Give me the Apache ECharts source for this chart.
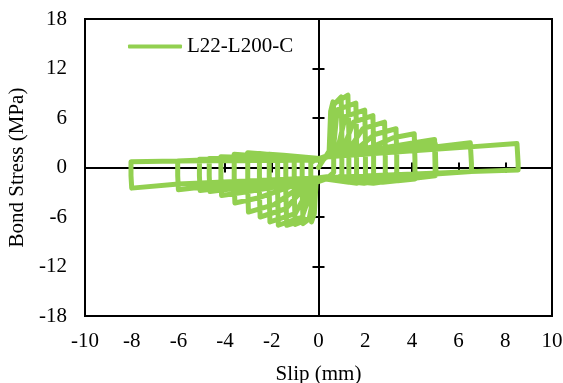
<!DOCTYPE html>
<html>
<head>
<meta charset="utf-8">
<style>
html,body{margin:0;padding:0;background:#fff;}
#chart{width:563px;height:383px;}
</style>
<script src="https://cdn.jsdelivr.net/npm/echarts@6/dist/echarts.min.js"></script>
</head>
<body>
<div id="chart"></div>
<script>
// Tick labels / axis ranges
const xTicks = [-10, -8, -6, -4, -2, 0, 2, 4, 6, 8, 10];
const yTicks = [-18, -12, -6, 0, 6, 12, 18];
const seriesName = 'L22-L200-C';

// Hysteresis cycles: [slip (mm), bond stress (MPa)]
const cycle01 = [[0,0],[0.2,0.9],[0.45,1.6],[0.52,6.8],[0.62,7.95],[0.65,3.5],[0.65,-0.6],[0.45,-1.1],[0.1,-1.2],[-0.1,-1.6],[-0.18,-5.6],[-0.3,-6.6],[-0.33,-3.0],[-0.33,0.6],[-0.15,0.9],[0.05,1.0]];
const cycle02 = [[0.3,1.3],[0.5,2.2],[0.58,7.4],[0.97,8.55],[1.0,4.0],[1.0,-0.9],[0.75,-1.4],[0.2,-1.3],[-0.1,-1.7],[-0.25,-5.9],[-0.66,-6.8],[-0.7,-3.0],[-0.7,0.8],[-0.4,1.1],[0.05,1.1]];
const cycle03 = [[0.35,1.4],[0.55,2.5],[0.65,7.7],[1.26,8.76],[1.3,4.0],[1.3,-1.2],[1.0,-1.6],[0.3,-1.4],[-0.1,-1.8],[-0.3,-6.1],[-1.0,-6.9],[-1.04,-3.0],[-1.04,1.0],[-0.6,1.2],[0.05,1.1]];
const cycle04 = [[0.4,1.4],[0.65,2.5],[0.8,7.0],[1.6,7.8],[1.63,3.5],[1.63,-1.4],[1.3,-1.8],[0.3,-1.4],[-0.1,-1.8],[-0.4,-6.2],[-1.36,-7.0],[-1.4,-3.0],[-1.4,1.2],[-0.9,1.3],[0.05,1.1]];
const cycle05 = [[0.4,1.4],[0.85,2.6],[1.15,6.2],[1.98,6.95],[2.01,3.0],[2.01,-1.6],[1.65,-1.9],[0.3,-1.4],[-0.2,-1.9],[-0.7,-6.0],[-1.72,-7.0],[-1.75,-3.0],[-1.75,1.4],[-1.2,1.4],[0.05,1.1]];
const cycle06 = [[0.4,1.4],[1.1,2.6],[1.5,5.5],[2.33,6.3],[2.36,2.5],[2.36,-1.7],[1.95,-1.9],[0.3,-1.4],[-0.3,-2.0],[-1.0,-5.6],[-2.08,-6.6],[-2.11,-3.0],[-2.11,1.6],[-1.5,1.5],[0.05,1.1]];
const cycle07 = [[0.4,1.4],[1.4,2.6],[1.9,4.7],[2.83,5.5],[2.86,2.0],[2.86,-1.7],[2.35,-1.9],[0.3,-1.4],[-0.5,-2.1],[-1.4,-5.0],[-2.5,-6.0],[-2.53,-3.0],[-2.53,1.7],[-1.8,1.5],[0.05,1.1]];
const cycle08 = [[0.4,1.4],[1.8,2.6],[2.4,4.0],[3.32,4.7],[3.35,1.5],[3.35,-1.6],[2.75,-1.8],[0.3,-1.4],[-0.7,-2.2],[-1.9,-4.5],[-3.0,-5.4],[-3.03,-2.5],[-3.03,1.8],[-2.2,1.6],[0.05,1.1]];
const cycle09 = [[0.4,1.4],[2.3,2.5],[3.2,3.6],[4.1,4.1],[4.13,1.0],[4.13,-1.4],[3.4,-1.6],[0.3,-1.3],[-1.0,-2.1],[-2.6,-3.7],[-3.58,-4.3],[-3.61,-2.0],[-3.61,1.6],[-2.6,1.4],[0.05,1.0]];
const cycle10 = [[0.4,1.4],[3.0,2.5],[4.1,3.0],[4.97,3.4],[5.0,0.8],[5.0,-1.0],[4.1,-1.3],[0.3,-1.3],[-1.3,-2.1],[-3.2,-3.0],[-4.15,-3.4],[-4.18,-1.5],[-4.18,1.3],[-3.0,1.2],[0.05,1.0]];
const cycle11 = [[0.4,1.3],[3.5,2.5],[4.97,3.1],[5.0,-0.9],[3.0,-1.2],[0.3,-1.3],[-2.0,-2.0],[-4.65,-2.9],[-4.68,-1.0],[-4.68,1.1],[-3.5,1.1],[0.05,1.0]];
const cycle12 = [[0.4,1.3],[4.0,2.6],[5.0,2.9],[5.03,-0.8],[3.5,-1.1],[0.3,-1.2],[-2.5,-2.0],[-5.07,-2.8],[-5.1,-1.0],[-5.1,1.0],[-4.0,1.0],[0.05,1.0]];
const cycle13 = [[0.4,1.3],[4.97,2.5],[6.5,3.0],[6.55,0.5],[6.55,-0.5],[5.0,-0.8],[0.3,-1.2],[-4.5,-2.2],[-6.0,-2.7],[-6.03,-1.0],[-6.03,0.8],[-5.0,0.9],[0.05,1.0]];
const cycle14 = [[0.4,1.3],[6.5,2.5],[8.5,2.9],[8.55,0.5],[8.55,-0.3],[6.5,-0.5],[0.3,-1.2],[-6.0,-2.0],[-8.0,-2.5],[-8.03,-1.0],[-8.03,0.7],[-6.0,0.8],[0.05,0.9]];

const cycles = [cycle01, cycle02, cycle03, cycle04, cycle05, cycle06, cycle07,
                cycle08, cycle09, cycle10, cycle11, cycle12, cycle13, cycle14];
const curve = [].concat(...cycles);

const FONT = "'Liberation Serif', 'Times New Roman', serif";
const FS = 21;
const GREEN = '#92D050';
const xMin = xTicks[0], xMax = xTicks[xTicks.length - 1], xStep = xTicks[1] - xTicks[0];
const yMin = yTicks[0], yMax = yTicks[yTicks.length - 1], yStep = yTicks[1] - yTicks[0];

const zeroLine = {color: '#000', width: 2};

function xAxisBase(extra) {
  return Object.assign({
    type: 'value', min: xMin, max: xMax, interval: xStep, position: 'bottom',
    splitLine: {show: false}
  }, extra);
}
function yAxisBase(extra) {
  return Object.assign({
    type: 'value', min: yMin, max: yMax, interval: yStep, position: 'left',
    splitLine: {show: false}
  }, extra);
}

const chart = echarts.init(document.getElementById('chart'), null, {renderer: 'canvas'});
chart.setOption({
  animation: false,
  backgroundColor: '#fff',
  grid: {left: 85, right: 11, top: 19, bottom: 67, show: true, borderColor: '#000', borderWidth: 2,
         backgroundColor: 'transparent', containLabel: false, outerBoundsMode: 'none'},
  legend: {
    data: [seriesName], left: 123, top: 31, icon: 'roundRect', itemWidth: 54, itemHeight: 4,
    textStyle: {fontFamily: FONT, fontSize: FS, color: '#000'}
  },
  xAxis: [
    xAxisBase({
      axisLine: {show: false, onZero: false}, axisTick: {show: false},
      axisLabel: {fontFamily: FONT, fontSize: FS, color: '#000', margin: 15},
      name: 'Slip (mm)', nameLocation: 'middle', nameGap: 48,
      nameTextStyle: {fontFamily: FONT, fontSize: FS, color: '#000'}
    }),
    xAxisBase({
      axisLine: {show: true, onZero: true, onZeroAxisIndex: 0, lineStyle: zeroLine},
      axisTick: {show: true, inside: true, length: 5, lineStyle: zeroLine},
      axisLabel: {show: false}
    }),
    xAxisBase({
      axisLine: {show: true, onZero: true, onZeroAxisIndex: 0, lineStyle: zeroLine},
      axisTick: {show: true, inside: false, length: 5, lineStyle: zeroLine},
      axisLabel: {show: false}
    })
  ],
  yAxis: [
    yAxisBase({
      axisLine: {show: false, onZero: false}, axisTick: {show: false},
      axisLabel: {fontFamily: FONT, fontSize: FS, color: '#000', margin: 18},
      name: 'Bond Stress (MPa)', nameLocation: 'middle', nameGap: 50, nameRotate: 90,
      nameTextStyle: {fontFamily: FONT, fontSize: FS, color: '#000'}
    }),
    yAxisBase({
      axisLine: {show: true, onZero: true, onZeroAxisIndex: 0, lineStyle: zeroLine},
      axisTick: {show: true, inside: true, length: 6, lineStyle: zeroLine},
      axisLabel: {show: false}
    }),
    yAxisBase({
      axisLine: {show: true, onZero: true, onZeroAxisIndex: 0, lineStyle: zeroLine},
      axisTick: {show: true, inside: false, length: 6, lineStyle: zeroLine},
      axisLabel: {show: false}
    })
  ],
  series: [{
    name: seriesName, type: 'line', xAxisIndex: 0, yAxisIndex: 0,
    data: curve, showSymbol: false, symbol: 'none', smooth: false,
    itemStyle: {color: GREEN},
    lineStyle: {color: GREEN, width: 5, join: 'round', cap: 'round'},
    z: 5
  }]
});
</script>
</body>
</html>
